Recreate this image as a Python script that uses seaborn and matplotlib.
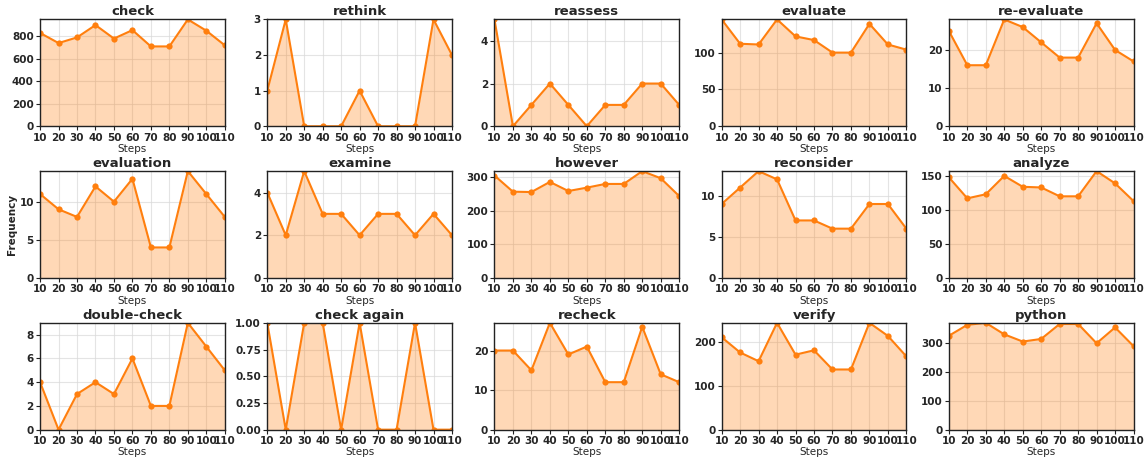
import matplotlib
matplotlib.use("Agg")
import matplotlib.pyplot as plt
from matplotlib.ticker import MultipleLocator
import seaborn as sns
import pandas as pd

steps = [10, 20, 30, 40, 50, 60, 70, 80, 90, 100, 110]

words = [
    "check", "rethink", "reassess", "evaluate", "re-evaluate",
    "evaluation", "examine", "however", "reconsider", "analyze",
    "double-check", "check again", "recheck", "verify", "python",
]

check = [830, 740, 790, 900, 780, 855, 710, 710, 950, 850, 720]
rethink = [1, 3, 0, 0, 0, 1, 0, 0, 0, 3, 2]
reassess = [5, 0, 1, 2, 1, 0, 1, 1, 2, 2, 1]
evaluate = [145, 112, 111, 145, 122, 117, 100, 100, 139, 111, 104]
re_evaluate = [25, 16, 16, 28, 26, 22, 18, 18, 27, 20, 17]
evaluation = [11, 9, 8, 12, 10, 13, 4, 4, 14, 11, 8]
examine = [4, 2, 5, 3, 3, 2, 3, 3, 2, 3, 2]
however = [304, 256, 255, 285, 258, 268, 279, 279, 317, 296, 243]
reconsider = [9, 11, 13, 12, 7, 7, 6, 6, 9, 9, 6]
analyze = [148, 117, 123, 150, 134, 133, 120, 120, 157, 139, 113]
double_check = [4, 0, 3, 4, 3, 6, 2, 2, 9, 7, 5]
check_again = [1, 0, 1, 1, 0, 1, 0, 0, 1, 0, 0]
recheck = [20, 20, 15, 27, 19, 21, 12, 12, 26, 14, 12]
verify = [212, 177, 157, 245, 172, 182, 138, 138, 245, 215, 168]
python = [326, 364, 371, 331, 306, 315, 367, 367, 300, 355, 290]

series = [
    check, rethink, reassess, evaluate, re_evaluate,
    evaluation, examine, however, reconsider, analyze,
    double_check, check_again, recheck, verify, python,
]

# spacing of the y tick labels in each panel
ytick_steps = [200, 1, 2, 50, 10, 5, 2, 100, 5, 50, 2, 0.25, 10, 100, 100]

sns.set_style("whitegrid")
plt.rcParams["font.family"] = ["DejaVu Sans"]

color = "#ff7f0e"

fig, axes = plt.subplots(3, 5, figsize=(11.45, 4.63), dpi=100)
fig.subplots_adjust(left=0.035, right=0.990, top=0.958, bottom=0.072,
                    wspace=0.23, hspace=0.42)

for i, (ax, word, vals, ystep) in enumerate(
        zip(axes.flat, words, series, ytick_steps)):
    df = pd.DataFrame({"Steps": steps, "Frequency": vals})
    ax.fill_between(df["Steps"], df["Frequency"], color=color, alpha=0.3,
                    linewidth=0)
    sns.lineplot(data=df, x="Steps", y="Frequency", ax=ax, color=color,
                 marker="o", markersize=4.5, markeredgewidth=0, linewidth=1.5)
    ax.set_xlim(10, 110)
    ax.set_ylim(0, max(vals))
    ax.set_xticks(steps)
    ax.yaxis.set_major_locator(MultipleLocator(ystep))
    if ystep < 1:
        ax.yaxis.set_major_formatter(lambda v, pos: f"{v:.2f}")
    ax.set_title(word, fontsize=9.5, fontweight="bold", pad=3)
    ax.set_xlabel("Steps", fontsize=7.5, labelpad=1)
    if i == 5:
        ax.set_ylabel("Frequency", fontsize=7.5, fontweight="bold", labelpad=2)
    else:
        ax.set_ylabel("")
    ax.grid(True, color="#d9d9d9", linewidth=0.8, alpha=0.7)
    for sp in ax.spines.values():
        sp.set_color("#222222")
        sp.set_linewidth(1.0)
    ax.tick_params(axis="both", which="major", labelsize=7.5, length=3,
                   width=0.8, pad=1.5, color="#222222", left=True, bottom=True)
    for lbl in ax.get_xticklabels() + ax.get_yticklabels():
        lbl.set_fontweight("bold")

fig.savefig("out.png", dpi=100)
